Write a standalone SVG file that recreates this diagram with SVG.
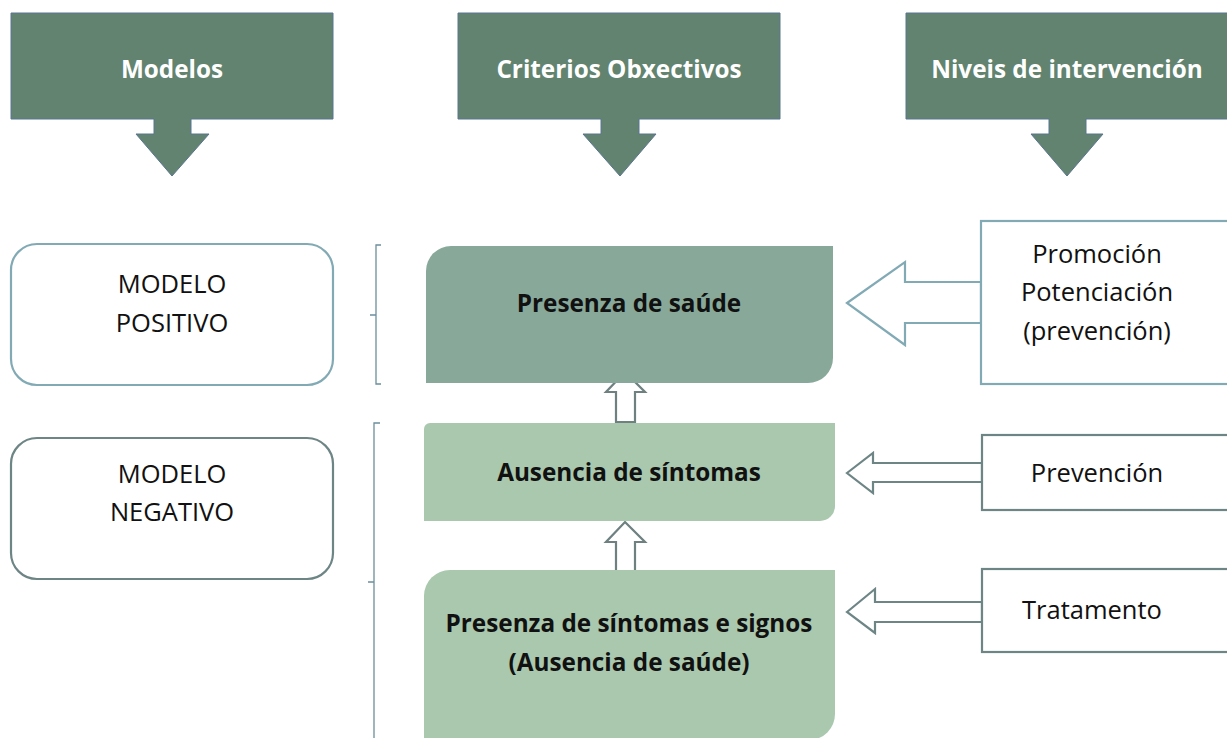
<svg xmlns="http://www.w3.org/2000/svg" width="1227" height="738" viewBox="0 0 1227 738">
<style>
.hdr{fill:#61836f;stroke:#5b7591;stroke-width:1}
.ht{font-family:"Open Sans","Liberation Sans",sans-serif;font-weight:bold;font-size:24.3px;fill:#ffffff;text-anchor:middle}
.t{font-family:"Open Sans","Liberation Sans",sans-serif;font-size:25.5px;fill:#111111;text-anchor:middle}
.tb{font-family:"Open Sans","Liberation Sans",sans-serif;font-weight:bold;font-size:24.3px;fill:#111111;text-anchor:middle}
.blue{fill:#ffffff;stroke:#82aab5;stroke-width:2.2}
.gray{fill:#ffffff;stroke:#6e8585;stroke-width:2.2}
.up{fill:#ffffff;stroke:#6e8080;stroke-width:2.2}
.br{fill:none;stroke:#6b8f9c;stroke-width:1.3}
</style>
<g id="hdr-modelos">
<path class="hdr" d="M11,13 H333 V119 H191 V134 H209 L172,176 L136,134 H154 V119 H11 Z"/>
<text class="ht" x="172" y="78">Modelos</text>
</g>
<g id="hdr-criterios">
<path class="hdr" d="M458,13 H780 V119 H639 V134 H656 L620,176 L583,134 H601 V119 H458 Z"/>
<text class="ht" x="619" y="78">Criterios Obxectivos</text>
</g>
<g id="hdr-niveis">
<path class="hdr" d="M906,13 H1228 V119 H1086 V134 H1103 L1067,176 L1031,134 H1049 V119 H906 Z"/>
<text class="ht" x="1067" y="78">Niveis de intervención</text>
</g>
<g id="modelo-positivo">
<rect class="blue" x="11" y="244" width="322" height="141" rx="26"/>
<text class="t" x="172" y="293">MODELO</text>
<text class="t" x="172" y="332">POSITIVO</text>
</g>
<g id="modelo-negativo">
<rect class="gray" x="11" y="438" width="322" height="141" rx="26"/>
<text class="t" x="172" y="483">MODELO</text>
<text class="t" x="172" y="521">NEGATIVO</text>
</g>
<g id="connectors">
<path class="br" d="M381,245 H376 V384 H381 M376,315 H370"/>
<path class="br" d="M380,423 H374 V740 M374,582 H368"/>
<path class="up" d="M625,372 L645,392 H635 V422 H616 V392 H606 Z"/>
<path class="up" d="M625,522 L645,542 H635 V571 H616 V542 H606 Z"/>
<path class="blue" d="M847,303 L905,262 V282 H981 V323 H905 V345 Z"/>
<path class="gray" d="M847,473 L873,453 V463 H982 V482 H873 V493 Z"/>
<path class="gray" d="M847,612 L875,589 V602 H982 V622 H875 V633 Z"/>
</g>
<g id="presenza-saude">
<path fill="#88a99a" d="M451,246 H833 V358 A25,25 0 0 1 808,383 H426 V271 A25,25 0 0 1 451,246 Z"/>
<text class="tb" x="629" y="312">Presenza de saúde</text>
</g>
<g id="ausencia-sintomas">
<path fill="#a9c8ae" d="M430,423 H835 V506 A15,15 0 0 1 820,521 H424 V429 A6,6 0 0 1 430,423 Z"/>
<text class="tb" x="629" y="481">Ausencia de síntomas</text>
</g>
<g id="presenza-sintomas">
<path fill="#a9c8ae" d="M450,570 H835 V714 A26,26 0 0 1 809,740 H424 V596 A26,26 0 0 1 450,570 Z"/>
<text class="tb" x="629" y="632">Presenza de síntomas e signos</text>
<text class="tb" x="629" y="671">(Ausencia de saúde)</text>
</g>
<g id="promocion">
<rect class="blue" x="981" y="221" width="248" height="163"/>
<text class="t" x="1097" y="263">Promoción</text>
<text class="t" x="1097" y="301">Potenciación</text>
<text class="t" x="1097" y="340">(prevención)</text>
</g>
<g id="prevencion">
<rect class="gray" x="982" y="435" width="247" height="75"/>
<text class="t" x="1097" y="482">Prevención</text>
</g>
<g id="tratamento">
<rect class="gray" x="982" y="569" width="247" height="83"/>
<text class="t" x="1092" y="619">Tratamento</text>
</g>
</svg>
